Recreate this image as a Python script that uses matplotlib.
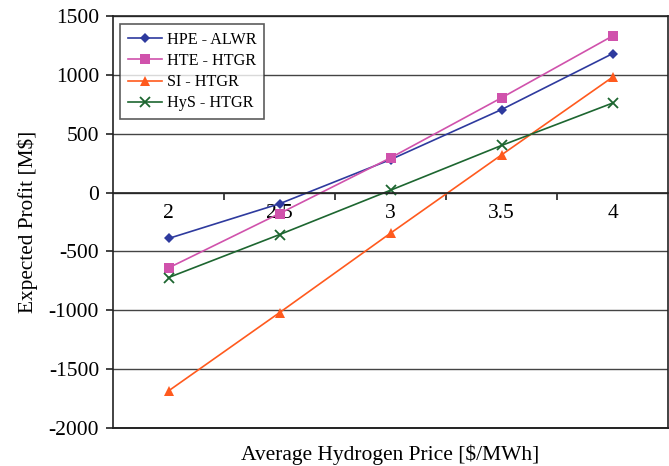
import matplotlib
matplotlib.use("Agg")
import matplotlib.pyplot as plt
from matplotlib.ticker import FixedLocator, NullFormatter

plt.rcParams["font.family"] = ["Liberation Serif", "DejaVu Serif"]
plt.rcParams["axes.unicode_minus"] = False

prices = ["2", "2.5", "3", "3.5", "4"]
hpe_alwr = [-390, -95, 280, 705, 1180]
hte_htgr = [-640, -178, 295, 805, 1330]
si_htgr = [-1685, -1020, -345, 320, 980]
hys_htgr = [-722, -357, 20, 400, 760]

series = [
    ("HPE - ALWR", hpe_alwr, "#2E3A9E", "D", 5.5),
    ("HTE - HTGR", hte_htgr, "#D052AC", "s", 6.5),
    ("SI - HTGR", si_htgr, "#FF5A1E", "^", 7.5),
    ("HyS - HTGR", hys_htgr, "#1D6630", "x", 7),
]

fig = plt.figure(figsize=(6.69, 4.66), dpi=100)
ax = fig.add_axes([113 / 669, 1 - 428 / 466, (668 - 113) / 669, (428 - 16) / 466])

x = list(range(len(prices)))
for name, vals, color, marker, ms in series:
    kw = dict(markeredgewidth=1.3) if marker == "x" else dict(markeredgewidth=0)
    ax.plot(x, vals, color=color, marker=marker, markersize=ms, linewidth=1.2,
            label=name, markerfacecolor=color, markeredgecolor=color, **kw)

ax.set_xlim(-0.5, len(prices) - 0.5)
ax.set_ylim(-2000, 1500)
ax.set_yticks(range(-2000, 1501, 500))
ax.yaxis.grid(True, color="#444444", linewidth=1.0)
ax.set_axisbelow(True)

# category axis crosses at zero
ax.spines["bottom"].set_position(("data", 0))
for s in ax.spines.values():
    s.set_color("#222222")
    s.set_linewidth(1.2)
ax.plot([0, 1], [0, 0], transform=ax.transAxes, color="#222222", linewidth=1.4, clip_on=False)

ax.set_xticks(x)
ax.set_xticklabels(prices)
ax.xaxis.set_minor_locator(FixedLocator([0.5, 1.5, 2.5, 3.5]))
ax.xaxis.set_minor_formatter(NullFormatter())
ax.tick_params(axis="x", which="major", length=0, pad=8, labelsize=15.5)
ax.tick_params(axis="x", which="minor", length=5, width=1.2, direction="out", color="#222222")
ax.tick_params(axis="y", length=5, width=1.2, direction="out", color="#222222", labelsize=15.5, pad=5)

ax.set_ylabel("Expected Profit [M$]", fontsize=15.3)
ax.yaxis.set_label_coords(-0.135, 0.5)
ax.set_xlabel("Average Hydrogen Price [$/MWh]", fontsize=15.5)
ax.xaxis.set_label_coords(0.5, -0.04)

leg = ax.legend(loc="upper left", bbox_to_anchor=(0.0126, 0.981), fontsize=11.6,
                frameon=True, fancybox=False, handlelength=2.1, borderpad=0.5,
                labelspacing=0.32, handletextpad=0.3, borderaxespad=0.0)
leg.get_frame().set_edgecolor("#333333")
leg.get_frame().set_linewidth(1.2)

fig.savefig("out.png", dpi=100)
